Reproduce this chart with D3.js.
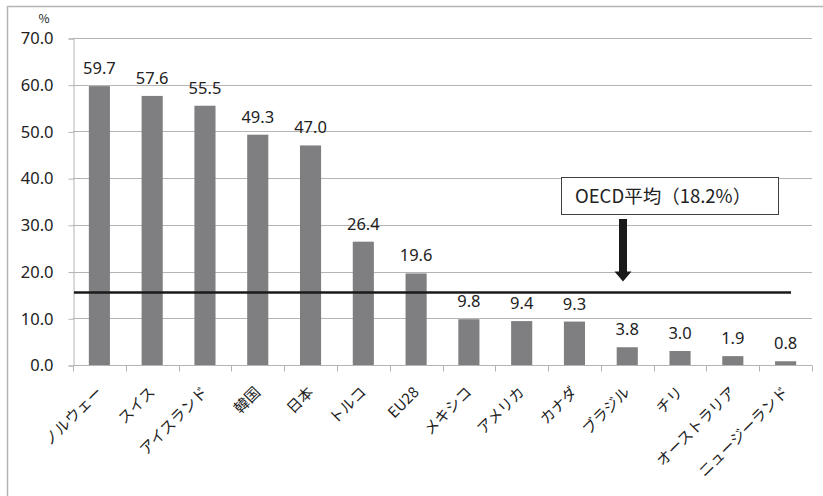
<!DOCTYPE html>
<html>
<head>
  <meta charset="utf-8">
  <style>
    body { margin: 0; background: #fff; }
    svg { display: block; }
    text { font-family: 'Noto Sans CJK JP', 'Noto Sans', sans-serif; fill: #222; }
  </style>
</head>
<body>
  <div id="chart"></div>
  <script src="https://d3js.org/d3.v7.min.js"></script>
  <script>
    var categories = ['ノルウェー', 'スイス', 'アイスランド', '韓国', '日本', 'トルコ', 'EU28',
      'メキシコ', 'アメリカ', 'カナダ', 'ブラジル', 'チリ', 'オーストラリア', 'ニュージーランド'];
    var values = [59.7, 57.6, 55.5, 49.3, 47.0, 26.4, 19.6, 9.8, 9.4, 9.3, 3.8, 3.0, 1.9, 0.8];
    var yTicks = [0, 10, 20, 30, 40, 50, 60, 70];
    var refLine = 15.5;            // drawn position of the line
    var refLabel = 'OECD平均（18.2%）';

    var width = 823, height = 496;
    var margin = { top: 38, right: 11, bottom: 131, left: 73 };

    var svg = d3.select('#chart').append('svg')
      .attr('width', width)
      .attr('height', height);

    // outer frame (top and left edges visible)
    svg.append('path')
      .attr('d', 'M7.5,' + height + 'V6.5H' + width)
      .attr('fill', 'none')
      .attr('stroke', '#b4b4b4')
      .attr('stroke-width', 1.5);

    var x = d3.scaleBand()
      .domain(categories)
      .range([margin.left, width - margin.right])
      .paddingInner(0.6)
      .paddingOuter(0.3);

    var y = d3.scaleLinear()
      .domain([0, 70])
      .range([height - margin.bottom, margin.top]);

    // gridlines
    svg.append('g')
      .selectAll('line')
      .data(yTicks.filter(function(d) { return d > 0; }))
      .enter().append('line')
      .attr('x1', margin.left)
      .attr('x2', width - margin.right)
      .attr('y1', function(d) { return Math.round(y(d)) + 0.5; })
      .attr('y2', function(d) { return Math.round(y(d)) + 0.5; })
      .attr('stroke', '#b4b4b4')
      .attr('stroke-width', 1);

    // y axis
    var yAxis = svg.append('g')
      .attr('transform', 'translate(' + (margin.left + 0.5) + ',0.5)')
      .call(d3.axisLeft(y).tickValues(yTicks).tickSize(5).tickPadding(15)
        .tickFormat(d3.format('.1f')));
    yAxis.select('.domain').attr('stroke', '#b4b4b4');
    yAxis.selectAll('.tick line').attr('stroke', '#b4b4b4');
    yAxis.selectAll('.tick text')
      .attr('fill', '#222')
      .style('font-size', '16.5px')
      .style('font-family', "'Noto Sans', sans-serif");

    svg.append('text')
      .attr('x', 44)
      .attr('y', 23)
      .attr('text-anchor', 'middle')
      .style('font-size', '12px')
      .text('%');

    // bars
    svg.append('g')
      .selectAll('rect')
      .data(values)
      .enter().append('rect')
      .attr('x', function(d, i) { return x(categories[i]); })
      .attr('width', x.bandwidth())
      .attr('y', function(d) { return y(d); })
      .attr('height', function(d) { return y(0) - y(d); })
      .attr('fill', '#7f7f82');

    // value labels
    svg.append('g')
      .selectAll('text')
      .data(values)
      .enter().append('text')
      .attr('x', function(d, i) { return x(categories[i]) + x.bandwidth() / 2; })
      .attr('y', function(d) { return y(d) - 12; })
      .attr('text-anchor', 'middle')
      .style('font-size', '16.5px')
      .style('font-family', "'Noto Sans', sans-serif")
      .text(function(d) { return d.toFixed(1); });

    // x axis
    var step = x.step();
    var xAxis = svg.append('g')
      .attr('transform', 'translate(0,' + (y(0) + 0.5) + ')');
    xAxis.append('line')
      .attr('x1', margin.left)
      .attr('x2', width - margin.right)
      .attr('stroke', '#b4b4b4');
    xAxis.selectAll('.tk')
      .data(d3.range(categories.length + 1))
      .enter().append('line')
      .attr('class', 'tk')
      .attr('x1', function(i) { return Math.round(margin.left + i * step) + 0.5; })
      .attr('x2', function(i) { return Math.round(margin.left + i * step) + 0.5; })
      .attr('y1', 0)
      .attr('y2', 6)
      .attr('stroke', '#b4b4b4');
    xAxis.selectAll('text')
      .data(categories)
      .enter().append('text')
      .attr('transform', function(d) {
        return 'translate(' + (x(d) + x.bandwidth() / 2) + ',24) rotate(-45)';
      })
      .attr('text-anchor', 'end')
      .attr('dy', '0.35em')
      .style('font-size', '15px')
      .text(function(d) { return d; });

    // OECD average line
    svg.append('line')
      .attr('x1', margin.left + 1)
      .attr('x2', 791)
      .attr('y1', y(refLine))
      .attr('y2', y(refLine))
      .attr('stroke', '#1a1a1a')
      .attr('stroke-width', 2.5);

    // annotation box and arrow
    var box = { x: 561, y: 177, w: 217, h: 37 };
    svg.append('rect')
      .attr('x', box.x + 0.5)
      .attr('y', box.y + 0.5)
      .attr('width', box.w)
      .attr('height', box.h)
      .attr('fill', '#fff')
      .attr('stroke', '#404040')
      .attr('stroke-width', 1);
    svg.append('text')
      .attr('x', box.x + 14)
      .attr('y', box.y + 26)
      .style('font-size', '18.5px')
      .text(refLabel);

    var ax = 623, tipY = y(refLine) - 11;
    svg.append('path')
      .attr('d', 'M' + (ax - 4) + ',219 H' + (ax + 4) + ' V' + (tipY - 10) +
        ' H' + (ax + 8.5) + ' L' + ax + ',' + tipY + ' L' + (ax - 8.5) + ',' + (tipY - 10) +
        ' H' + (ax - 4) + ' Z')
      .attr('fill', '#1a1a1a');
  </script>
</body>
</html>
